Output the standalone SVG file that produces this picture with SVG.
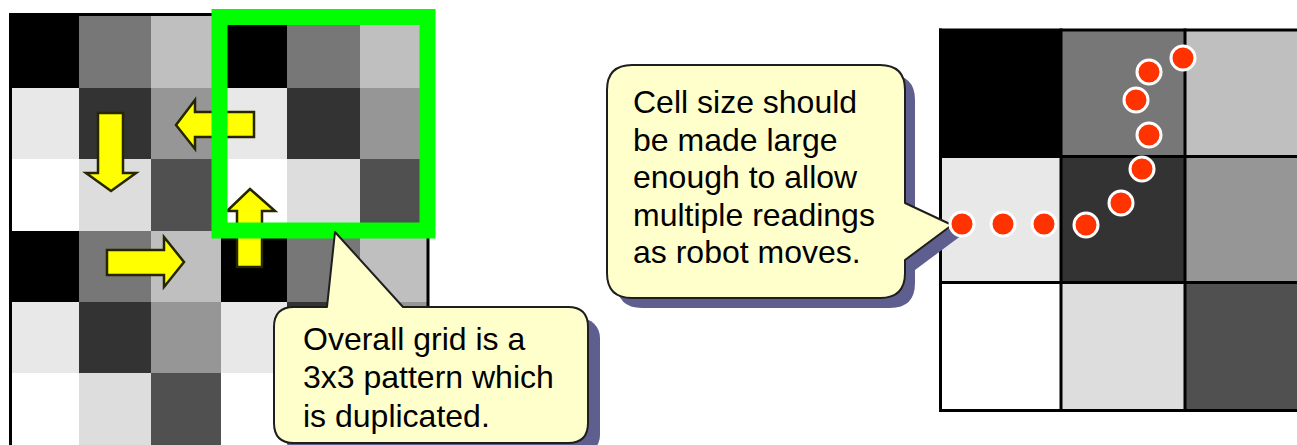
<svg xmlns="http://www.w3.org/2000/svg" width="1297" height="445" viewBox="0 0 1297 445">
<style>
.c0{fill:#000}.c1{fill:#777}.c2{fill:#bfbfbf}
.c3{fill:#e8e8e8}.c4{fill:#333}.c5{fill:#969696}
.c6{fill:#fff}.c7{fill:#ddd}.c8{fill:#505050}
.arrow{fill:#ffff00;stroke:#262600;stroke-width:2.5;stroke-linejoin:miter}
.callout{fill:#ffffcc;stroke:#1e1e1e;stroke-width:2;stroke-linejoin:round}
.shadow{fill:#5f5f8f}
.txt{font-family:"Liberation Sans",Arial,sans-serif;font-size:32px;fill:#000}
.dot{fill:#ff3300;stroke:#fff;stroke-width:3}
.gl{stroke:#000;stroke-width:3;fill:none}
</style>
<rect width="1297" height="445" fill="#fff"/>
<g id="left-grid">
<rect class="c0" x="12" y="14" width="67" height="74"/>
<rect class="c1" x="79" y="14" width="72" height="74"/>
<rect class="c2" x="151" y="14" width="70" height="74"/>
<rect class="c0" x="221" y="14" width="66" height="74"/>
<rect class="c1" x="287" y="14" width="73" height="74"/>
<rect class="c2" x="360" y="14" width="67" height="74"/>
<rect class="c3" x="12" y="88" width="67" height="71"/>
<rect class="c4" x="79" y="88" width="72" height="71"/>
<rect class="c5" x="151" y="88" width="70" height="71"/>
<rect class="c3" x="221" y="88" width="66" height="71"/>
<rect class="c4" x="287" y="88" width="73" height="71"/>
<rect class="c5" x="360" y="88" width="67" height="71"/>
<rect class="c6" x="12" y="159" width="67" height="72"/>
<rect class="c7" x="79" y="159" width="72" height="72"/>
<rect class="c8" x="151" y="159" width="70" height="72"/>
<rect class="c6" x="221" y="159" width="66" height="72"/>
<rect class="c7" x="287" y="159" width="73" height="72"/>
<rect class="c8" x="360" y="159" width="67" height="72"/>
<rect class="c0" x="12" y="231" width="67" height="71"/>
<rect class="c1" x="79" y="231" width="72" height="71"/>
<rect class="c2" x="151" y="231" width="70" height="71"/>
<rect class="c0" x="221" y="231" width="66" height="71"/>
<rect class="c1" x="287" y="231" width="73" height="71"/>
<rect class="c2" x="360" y="231" width="67" height="71"/>
<rect class="c3" x="12" y="302" width="67" height="71"/>
<rect class="c4" x="79" y="302" width="72" height="71"/>
<rect class="c5" x="151" y="302" width="70" height="71"/>
<rect class="c3" x="221" y="302" width="66" height="71"/>
<rect class="c4" x="287" y="302" width="73" height="71"/>
<rect class="c5" x="360" y="302" width="67" height="71"/>
<rect class="c6" x="12" y="373" width="67" height="72"/>
<rect class="c7" x="79" y="373" width="72" height="72"/>
<rect class="c8" x="151" y="373" width="70" height="72"/>
<rect class="c6" x="221" y="373" width="66" height="72"/>
<rect class="c7" x="287" y="373" width="73" height="72"/>
<rect class="c8" x="360" y="373" width="67" height="72"/>
<rect class="gl" x="10.5" y="14.5" width="417.5" height="440"/>
</g>
<g id="connectors">
<polygon id="arrow-down" class="arrow" points="98,113 123,113 123,173 136,173 111,191 86,173 98,173"/>
<polygon id="arrow-left" class="arrow" points="254,112 254,137 195,137 195,149 176,125 195,100 195,112"/>
<polygon id="arrow-up" class="arrow" points="237,267 262,267 262,211 275,211 250,189 227,211 237,211"/>
<polygon id="arrow-right" class="arrow" points="107,250 164,250 164,237 184,262 164,287 164,275 107,275"/>
</g>
<g id="pattern-box">
<rect x="219.5" y="17" width="208" height="213.5" fill="none" stroke="#00ff00" stroke-width="16"/>
</g>
<g id="callout-grid">
<rect class="shadow" x="285" y="318" width="315" height="137" rx="20"/>
<path class="callout" d="M294,307 L327,307 L335,232 L403,307 L568,307 Q588,307 588,327 L588,423 Q588,443 568,443 L294,443 Q274,443 274,423 L274,327 Q274,307 294,307 Z"/>
<text class="txt" x="303" y="350">Overall grid is a</text>
<text class="txt" x="303" y="388">3x3 pattern which</text>
<text class="txt" x="303" y="427">is duplicated.</text>
</g>
<g id="right-grid">
<rect class="c0" x="940" y="30" width="121" height="127"/>
<rect class="c1" x="1061" y="30" width="124" height="127"/>
<rect class="c2" x="1185" y="30" width="125" height="127"/>
<rect class="c3" x="940" y="157" width="121" height="126"/>
<rect class="c4" x="1061" y="157" width="124" height="126"/>
<rect class="c5" x="1185" y="157" width="125" height="126"/>
<rect class="c6" x="940" y="283" width="121" height="128"/>
<rect class="c7" x="1061" y="283" width="124" height="128"/>
<rect class="c8" x="1185" y="283" width="125" height="128"/>
<g class="gl">
<line x1="940.5" y1="28.5" x2="940.5" y2="412"/>
<line x1="1061" y1="28.5" x2="1061" y2="412"/>
<line x1="1185" y1="28.5" x2="1185" y2="412"/>
<line x1="939" y1="30" x2="1297" y2="30"/>
<line x1="939" y1="156.5" x2="1297" y2="156.5"/>
<line x1="939" y1="282.5" x2="1297" y2="282.5"/>
<line x1="939" y1="410.5" x2="1297" y2="410.5"/>
</g>
</g>
<g id="callout-cell">
<path class="shadow" d="M642,75 L890,75 Q915,75 915,100 L915,213 L962,235 L915,270 L915,283 Q915,308 890,308 L642,308 Q617,308 617,283 L617,100 Q617,75 642,75 Z"/>
<path class="callout" d="M632,65 L880,65 Q905,65 905,90 L905,203 L952,225 L905,260 L905,273 Q905,298 880,298 L632,298 Q607,298 607,273 L607,90 Q607,65 632,65 Z"/>
<text class="txt" x="633" y="113">Cell size should</text>
<text class="txt" x="633" y="150.5">be made large</text>
<text class="txt" x="633" y="188">enough to allow</text>
<text class="txt" x="633" y="225.5">multiple readings</text>
<text class="txt" x="633" y="263">as robot moves.</text>
</g>
<g id="readings">
<circle class="dot" cx="962" cy="224" r="12"/>
<circle class="dot" cx="1003" cy="224" r="12"/>
<circle class="dot" cx="1044" cy="224" r="12"/>
<circle class="dot" cx="1086" cy="225" r="12"/>
<circle class="dot" cx="1121" cy="203" r="12"/>
<circle class="dot" cx="1142" cy="169" r="12"/>
<circle class="dot" cx="1149" cy="135" r="12"/>
<circle class="dot" cx="1136" cy="100" r="12"/>
<circle class="dot" cx="1149" cy="72" r="12"/>
<circle class="dot" cx="1183" cy="58" r="12"/>
</g>
</svg>
